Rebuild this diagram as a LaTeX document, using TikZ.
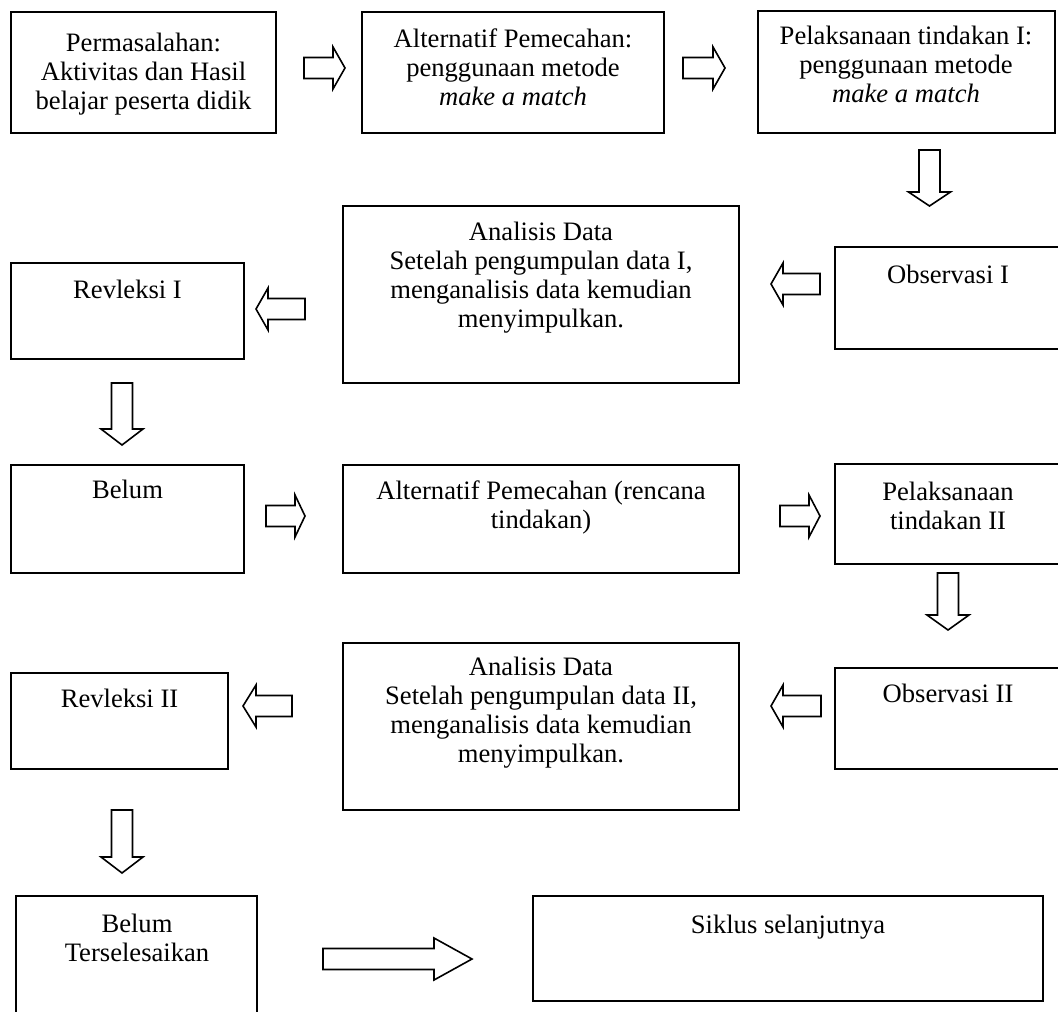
\documentclass[tikz,border=0pt]{standalone}
\usepackage{fontspec}
\setmainfont{Liberation Serif}
\usetikzlibrary{fit,calc}
\tikzset{box/.style={draw,line width=1pt,inner sep=0pt},
  txt/.style={align=center,anchor=north,inner sep=0pt},
  barrow/.style={draw,line width=0.8pt,line join=miter}}
\newcommand{\newBox}[5]{\path (#2,#3) coordinate (#1-a) (#4,#5) coordinate (#1-b);
  \node[box,fit=(#1-a)(#1-b)] (#1) {};}
\newcommand{\newText}[4]{\node[txt] (#1) at (#2,{#3-18}) {#4};}
\newcommand{\newArrow}[6]{\begin{scope}[shift={(#2,#3)},rotate=#4]
  \coordinate (#1) at (0,0);
  \draw[barrow] (0,-10.5) -- ({#5-#6},-10.5) -- ({#5-#6},-21) -- (#5,0)
    -- ({#5-#6},21) -- ({#5-#6},10.5) -- (0,10.5) -- cycle;
  \end{scope}}

\begin{document}
\begin{tikzpicture}[x=0.5pt,y=-0.5pt,
    font=\fontsize{13.3}{14.5}\selectfont
    ]
    \useasboundingbox (0,0) rectangle (1058,1011);
    \clip (0,0) rectangle (1058,1011);
    \newBox{perm}{11}{12}{276}{133}
    \newBox{alt1}{362}{12}{664}{133}
    \newBox{pel1}{758}{11}{1055}{133}
    \newBox{an1}{343}{206}{739}{383}
    \newBox{obs1}{835}{247}{1062}{349}
    \newBox{rev1}{11}{263}{244}{359}
    \newBox{bel1}{11}{465}{244}{573}
    \newBox{alt2}{343}{465}{739}{573}
    \newBox{pel2}{835}{464}{1062}{564}
    \newBox{an2}{343}{643}{739}{810}
    \newBox{obs2}{835}{668}{1062}{769}
    \newBox{rev2}{11}{673}{228}{769}
    \newBox{bel2}{16}{896}{257}{1030}
    \newBox{sik}{533}{896}{1043}{1001}
    \newText{perm-t}{143.5}{51}{Permasalahan:\\Aktivitas dan Hasil\\belajar peserta didik}
    \newText{alt1-t}{513}{46}{Alternatif Pemecahan:\\penggunaan metode\\\textit{make a match}}
    \newText{pel1-t}{906}{44}{Pelaksanaan tindakan I:\\penggunaan metode\\\textit{make a match}}
    \newText{an1-t}{541}{240}{Analisis Data\\Setelah pengumpulan data I,\\menganalisis data kemudian\\menyimpulkan.}
    \newText{obs1-t}{948}{283}{Observasi I}
    \newText{rev1-t}{127.5}{298}{Revleksi I}
    \newText{bel1-t}{127.5}{498}{Belum}
    \newText{alt2-t}{541}{498}{Alternatif Pemecahan (rencana\\tindakan)}
    \newText{pel2-t}{948}{500}{Pelaksanaan\\tindakan II}
    \newText{an2-t}{541}{675}{Analisis Data\\Setelah pengumpulan data II,\\menganalisis data kemudian\\menyimpulkan.}
    \newText{obs2-t}{948}{702}{Observasi II}
    \newText{rev2-t}{119.5}{707}{Revleksi II}
    \newText{bel2-t}{137}{932}{Belum\\Terselesaikan}
    \newText{sik-t}{788}{933}{Siklus selanjutnya}
    \newArrow{a1}{304}{68}{0}{41}{12}
    \newArrow{a2}{683}{68}{0}{42}{12}
    \newArrow{a3}{929.5}{150}{-90}{56}{14}
    \newArrow{a4}{820}{284}{180}{49}{12}
    \newArrow{a5}{305}{309}{180}{49}{12}
    \newArrow{a6}{122}{383}{-90}{62}{16}
    \newArrow{a7}{266}{516}{0}{39}{10}
    \newArrow{a8}{780}{516}{0}{40}{11}
    \newArrow{a9}{948}{573}{-90}{57}{15}
    \newArrow{a10}{821}{706}{180}{50}{12}
    \newArrow{a11}{292}{706}{180}{49}{13}
    \newArrow{a12}{122}{810}{-90}{63}{16}
    \newArrow{a13}{323}{959}{0}{149}{38}
  \end{tikzpicture}
\end{document}
